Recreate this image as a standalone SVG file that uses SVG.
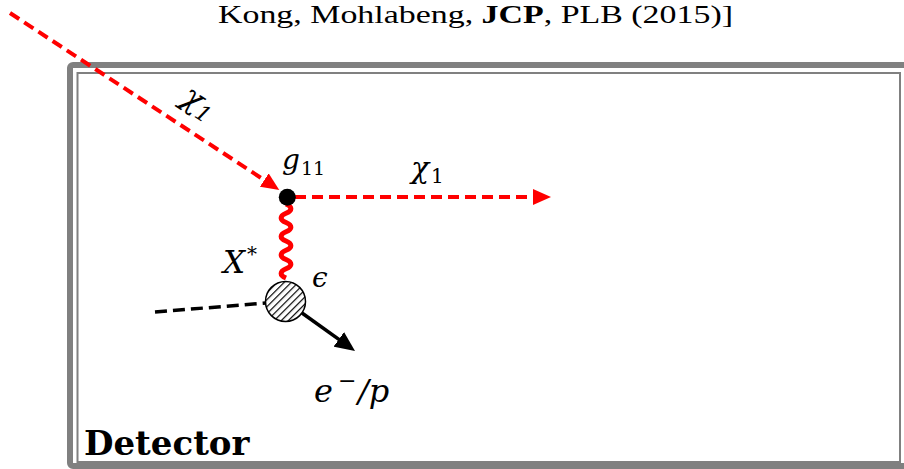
<svg xmlns="http://www.w3.org/2000/svg" width="904" height="469" viewBox="0 0 904 469">
<defs>
<style>
.red-dash{fill:none;stroke:#ff0000;stroke-width:4;stroke-dasharray:11 6}
.blk-dash{fill:none;stroke:#000;stroke-width:3.5;stroke-dasharray:12 6}
.blk{fill:none;stroke:#000;stroke-width:3.5}
.wave{fill:none;stroke:#ff0000;stroke-width:5;stroke-linejoin:round}
.math{font-family:"DejaVu Serif","Liberation Serif",serif;font-style:italic;fill:#000}
.up{font-family:"DejaVu Serif","Liberation Serif",serif;font-style:normal;fill:#000}
.cite{font-family:"Liberation Serif",serif;fill:#000}
.border-outer{fill:none;stroke:#808080;stroke-width:6}
.border-inner{fill:none;stroke:#808080;stroke-width:2}
</style>
<marker id="arrRed" markerUnits="userSpaceOnUse" markerWidth="20" markerHeight="16" refX="10" refY="8" orient="auto">
<path d="M0,0 L18,8 L0,16 z" fill="#ff0000"/>
</marker>
<marker id="arrBlk" markerUnits="userSpaceOnUse" markerWidth="22" markerHeight="18" refX="10" refY="9" orient="auto">
<path d="M0,0 L20,9 L0,18 z" fill="#000"/>
</marker>
<pattern id="hatch" patternUnits="userSpaceOnUse" width="5" height="5" patternTransform="rotate(45)">
<rect x="0" y="0" width="5" height="5" fill="#fff"/>
<rect x="0" y="0" width="1.2" height="5" fill="#000"/>
</pattern>
</defs>
<rect width="904" height="469" fill="#fff"/>

<text id="citation" class="cite" x="218" y="23" font-size="26" textLength="515" lengthAdjust="spacingAndGlyphs">Kong, Mohlabeng, <tspan font-weight="bold">JCP</tspan>, PLB (2015)]</text>

<g id="detector">
<rect class="border-outer" x="70" y="65" width="837" height="401" rx="3"/>
<rect class="border-inner" x="77.5" y="73" width="822.5" height="389"/>
<text class="up" x="84" y="455" font-size="34" font-weight="bold">Detector</text>
</g>

<g id="connectors">
<path id="chi-in" class="red-dash" d="M10,13 L272.6,185.5" marker-end="url(#arrRed)"/>
<path id="chi-out" class="red-dash" d="M295,197 L543,197" marker-end="url(#arrRed)"/>
<path id="x-star" class="wave" d="M286,204 c6.5,2.8 6.5,6.5 0,9.25 c-6.5,2.8 -6.5,6.5 0,9.25 c6.5,2.8 6.5,6.5 0,9.25 c-6.5,2.8 -6.5,6.5 0,9.25 c6.5,2.8 6.5,6.5 0,9.25 c-6.5,2.8 -6.5,6.5 0,9.25 c6.5,2.8 6.5,6.5 0,9.25 c-6.5,2.8 -6.5,6.5 0,9.25"/>
<path id="target-in" class="blk-dash" d="M155,312 L266,303"/>
<path id="target-out" class="blk" d="M302,313 L346.9,345.2" marker-end="url(#arrBlk)"/>
</g>

<g id="label-chi-in">
<text class="math" transform="translate(198,104) rotate(33)" x="0" y="8" font-size="32" text-anchor="middle">χ<tspan font-size="22" dy="5">1</tspan></text>
</g>
<g id="label-chi-out">
<text class="math" x="411" y="178" font-size="30">χ</text>
<text class="up" x="431" y="183" font-size="20">1</text>
</g>
<g id="label-xstar">
<text class="math" x="223" y="273" font-size="31">X</text>
<text class="up" x="247" y="261" font-size="20">*</text>
</g>

<g id="vertex-g11">
<circle cx="287.3" cy="197.3" r="8.5" fill="#000"/>
<text class="math" x="282" y="169" font-size="28">g</text>
<text class="up" x="301" y="175" font-size="19">11</text>
</g>

<g id="target-blob">
<circle cx="285.5" cy="301.5" r="20" fill="url(#hatch)" stroke="#000" stroke-width="1.5"/>
<text class="math" x="312" y="287" font-size="28">ϵ</text>
</g>

<g id="label-final">
<text class="math" x="314" y="402" font-size="32">e</text>
<text class="up" x="338" y="388" font-size="22">−</text>
<text class="math" x="358" y="402" font-size="32">/p</text>
</g>
</svg>
